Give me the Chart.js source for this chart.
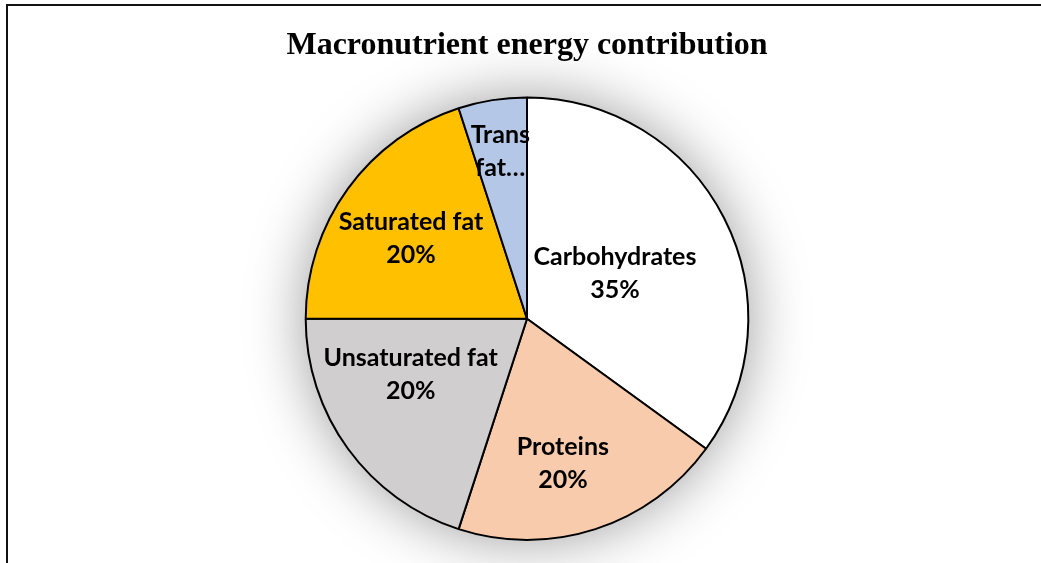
<!DOCTYPE html>
<html>
<head>
<meta charset="utf-8">
<script src="https://cdn.jsdelivr.net/npm/chart.js@4/dist/chart.umd.min.js"></script>
<style>
  html, body { margin: 0; padding: 0; background: #fff; }
  #wrap { position: relative; width: 1041px; height: 563px; overflow: hidden; }
  #frame { position: absolute; left: 6px; top: 4px; width: 1100px; height: 700px;
           border-left: 2px solid #111; border-top: 2px solid #111; pointer-events: none; }
  canvas { position: absolute; left: 0; top: 0; }
</style>
</head>
<body>
<div id="wrap">
  <canvas id="chart-pie" width="1041" height="563"></canvas>
  <div id="frame"></div>
</div>
<script>
const categories = ['Carbohydrates', 'Proteins', 'Unsaturated fat', 'Saturated fat', 'Trans fat'];
const shares = [35, 20, 20, 20, 5];
const labelText = [
  ['Carbohydrates', '35%'],
  ['Proteins', '20%'],
  ['Unsaturated fat', '20%'],
  ['Saturated fat', '20%'],
  ['Trans', 'fat…'],
];
const sliceColors = ['#ffffff', '#f8cbad', '#d0cece', '#ffc000', '#b4c7e7'];

// where Excel put each label: fraction of radius, and a small angle nudge (deg)
const labelRadius = [0.45, 0.67, 0.58, 0.64, 0.77];
const labelNudge = [-1, 4, 11, -1, 0];

const glowPlugin = {
  id: 'glow',
  beforeDatasetsDraw(chart) {
    const arc = chart.getDatasetMeta(0).data[0];
    if (!arc) return;
    const { ctx } = chart;
    ctx.save();
    ctx.shadowColor = 'rgba(0,0,0,0.4)';
    ctx.shadowBlur = 60;
    ctx.fillStyle = '#fff';
    ctx.beginPath();
    ctx.arc(arc.x, arc.y, arc.outerRadius, 0, Math.PI * 2);
    ctx.fill();
    ctx.restore();
  },
};

const sliceLabels = {
  id: 'sliceLabels',
  afterDatasetsDraw(chart) {
    const { ctx } = chart;
    const meta = chart.getDatasetMeta(0);
    ctx.save();
    ctx.font = 'bold 25px Lato, "Open Sans", sans-serif';
    ctx.fillStyle = '#000';
    ctx.textAlign = 'center';
    ctx.textBaseline = 'middle';
    meta.data.forEach((arc, i) => {
      const mid = (arc.startAngle + arc.endAngle) / 2 + labelNudge[i] * Math.PI / 180;
      const r = arc.outerRadius * labelRadius[i];
      const x = arc.x + Math.cos(mid) * r;
      const y = arc.y + Math.sin(mid) * r + 1;
      const lines = labelText[i];
      lines.forEach((t, j) => {
        ctx.fillText(t, x, y + (j - (lines.length - 1) / 2) * 33);
      });
    });
    ctx.restore();
  },
};

new Chart(document.getElementById('chart-pie'), {
  type: 'pie',
  data: {
    labels: categories,
    datasets: [{
      data: shares,
      backgroundColor: sliceColors,
      borderColor: '#000',
      borderWidth: 2,
    }],
  },
  options: {
    responsive: false,
    animation: false,
    layout: { padding: { left: 13, right: 0, top: 0, bottom: 22 } },
    plugins: {
      legend: { display: false },
      tooltip: { enabled: false },
      title: {
        display: true,
        text: 'Macronutrient energy contribution',
        color: '#000',
        font: { family: '"Liberation Serif", "Times New Roman", serif', size: 32, weight: 'bold', lineHeight: 1.2 },
        padding: { top: 27, bottom: 31 },
      },
    },
  },
  plugins: [glowPlugin, sliceLabels],
});
</script>
</body>
</html>
